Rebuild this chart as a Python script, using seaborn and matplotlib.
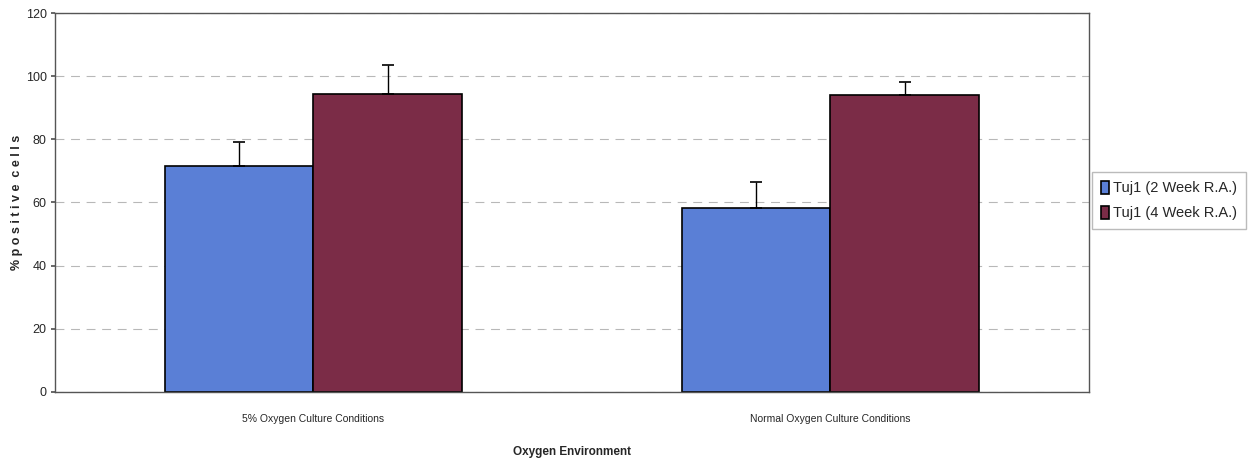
import numpy as np
import pandas as pd
import matplotlib
matplotlib.use("Agg")
import matplotlib.pyplot as plt
import seaborn as sns

# values
CONDITIONS = ["5% Oxygen Culture Conditions", "Normal Oxygen Culture Conditions"]
SERIES = ["Tuj1 (2 Week R.A.)", "Tuj1 (4 Week R.A.)"]
MEAN_2WK = [71.5, 58.3]
MEAN_4WK = [94.5, 94.0]
ERR_2WK = [7.6, 8.2]
ERR_4WK = [9.0, 4.3]
COLORS = ["#5a7fd6", "#7b2c47"]

df = pd.DataFrame({
    "condition": CONDITIONS * 2,
    "series": [SERIES[0]] * 2 + [SERIES[1]] * 2,
    "value": MEAN_2WK + MEAN_4WK,
    "err": ERR_2WK + ERR_4WK,
})

sns.set_theme(style="white")
plt.rcParams["font.family"] = ["Liberation Sans", "DejaVu Sans"]

fig = plt.figure(figsize=(12.55, 4.61), dpi=100)
ax = fig.add_axes([0.0438, 0.1497, 0.8239, 0.8221])

sns.barplot(data=df, x="condition", y="value", hue="series", order=CONDITIONS,
            hue_order=SERIES, palette=COLORS, width=0.573, edgecolor="black",
            linewidth=1.2, errorbar=None, ax=ax, zorder=2, saturation=1)

# upper-only error bars at the bar centres
for bars, errs, vals in zip(ax.containers, [ERR_2WK, ERR_4WK], [MEAN_2WK, MEAN_4WK]):
    xs = [b.get_x() + b.get_width() / 2 for b in bars]
    ax.errorbar(xs, vals, yerr=[np.zeros(len(errs)), errs], fmt="none",
                ecolor="black", elinewidth=1.0, capsize=4, capthick=1.2, zorder=3)

ax.set_ylim(0, 120)
ax.set_yticks(range(0, 121, 20))
ax.set_xlim(-0.5, 1.5)
ax.yaxis.grid(True, color="#b8b8b8", linestyle=(0, (8, 6)), linewidth=0.8, zorder=0)
ax.set_axisbelow(True)
for s in ax.spines.values():
    s.set_color("#555555")
    s.set_linewidth(1.0)
ax.tick_params(axis="y", labelsize=9, length=3, left=True, color="#555555", pad=3)
ax.tick_params(axis="x", labelsize=7.5, length=0, pad=16)

ax.set_ylabel("% p o s i t i v e  c e l l s", fontsize=9, fontweight="bold")
ax.yaxis.set_label_coords(-0.031, 0.5)
ax.set_xlabel("Oxygen Environment", fontsize=8.5, fontweight="bold", labelpad=16)

ax.legend(loc="center left", bbox_to_anchor=(1.0, 0.505), frameon=True,
          fancybox=False, edgecolor="#aaaaaa", fontsize=10.5, handlelength=0.55,
          handleheight=1.0, handletextpad=0.3, borderpad=0.6, labelspacing=0.7,
          borderaxespad=0.2)

fig.savefig("out.png", dpi=100)
